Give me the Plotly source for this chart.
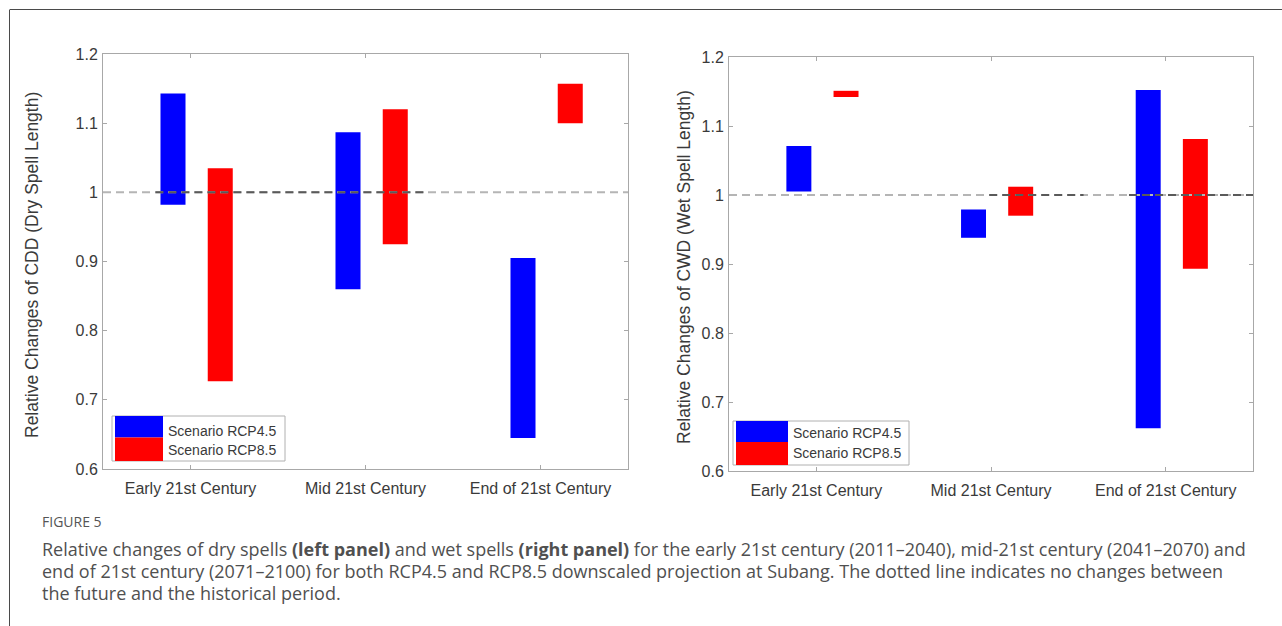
import plotly.graph_objects as go

# ---- data ----
periods = ["Early 21st Century", "Mid 21st Century", "End of 21st Century"]
scenarios = ["Scenario RCP4.5", "Scenario RCP8.5"]

# dry spells (CDD) relative change ranges
cdd_rcp45_low = [0.982, 0.860, 0.645]
cdd_rcp45_high = [1.143, 1.087, 0.905]
cdd_rcp85_low = [0.727, 0.925, 1.100]
cdd_rcp85_high = [1.035, 1.120, 1.157]

# wet spells (CWD) relative change ranges
cwd_rcp45_low = [1.005, 0.938, 0.662]
cwd_rcp45_high = [1.071, 0.979, 1.152]
cwd_rcp85_low = [1.142, 0.970, 0.893]
cwd_rcp85_high = [1.151, 1.012, 1.081]

y_tick_vals = [0.6, 0.7, 0.8, 0.9, 1.0, 1.1, 1.2]
y_tick_text = ["0.6", "0.7", "0.8", "0.9", "1", "1.1", "1.2"]
no_change = 1.0

# ---- styling ----
W, H = 1282, 626
BLUE = "#0000ff"
RED = "#ff0000"
AXIS_GRAY = "#a8a8a8"
TEXT = "#3a3a3a"
FONT = "Liberation Sans, Arial, sans-serif"
CAP_FONT = "Open Sans, Lato, sans-serif"


def px(x):
    return x / W


def py(y):
    return 1 - y / H


fig = go.Figure()

bar_w = 0.143
off45, off85 = -0.10, 0.17
cats = [1, 2, 3]

panels = [
    ("x", "y", cdd_rcp45_low, cdd_rcp45_high, cdd_rcp85_low, cdd_rcp85_high),
    ("x2", "y2", cwd_rcp45_low, cwd_rcp45_high, cwd_rcp85_low, cwd_rcp85_high),
]

for xa, ya, lo45, hi45, lo85, hi85 in panels:
    fig.add_trace(go.Bar(
        x=[c + off45 for c in cats], y=[h - l for l, h in zip(lo45, hi45)], base=lo45,
        width=bar_w, marker=dict(color=BLUE, line=dict(width=0)),
        xaxis=xa, yaxis=ya, showlegend=False, name=scenarios[0]))
    fig.add_trace(go.Bar(
        x=[c + off85 for c in cats], y=[h - l for l, h in zip(lo85, hi85)], base=lo85,
        width=bar_w, marker=dict(color=RED, line=dict(width=0)),
        xaxis=xa, yaxis=ya, showlegend=False, name=scenarios[1]))

shapes = []
# reference line at "no change": light dashes across, darker overlapping dashes
for xr, yr, dark_spans in [("x", "y", [(0.80, 2.34)]),
                           ("x2", "y2", [(1.99, 2.53), (2.79, 3.5)])]:
    shapes.append(dict(type="line", xref=xr, yref=yr, x0=0.5, x1=3.5,
                       y0=no_change, y1=no_change, layer="above",
                       line=dict(color="#b5b5b5", width=2, dash="8px,5px")))
    for a, b in dark_spans:
        shapes.append(dict(type="line", xref=xr, yref=yr, x0=a, x1=b,
                           y0=no_change, y1=no_change, layer="above",
                           line=dict(color="#5a5a5a", width=2, dash="8px,5px")))

# outer frame of the figure
shapes.append(dict(type="line", xref="paper", yref="paper", x0=px(10), x1=1.0,
                   y0=py(9.5), y1=py(9.5), line=dict(color="#4a4a4a", width=1)))
shapes.append(dict(type="line", xref="paper", yref="paper", x0=px(9.5), x1=px(9.5),
                   y0=py(9.5), y1=0, line=dict(color="#4a4a4a", width=1)))

annotations = []

# legends (colour patches stacked, with a thin box)
for (bx0, by0, bx1, by1, pxr, ty1, ty2) in [
        (112, 416, 285, 461, 163, 431, 450),
        (733, 421, 909, 465, 788, 433, 453)]:
    mid = (by0 + by1) / 2 - 1
    shapes.append(dict(type="rect", xref="paper", yref="paper",
                       x0=px(bx0), x1=px(bx1), y0=py(by1), y1=py(by0),
                       line=dict(color="#b0b0b0", width=1), fillcolor="white"))
    shapes.append(dict(type="rect", xref="paper", yref="paper",
                       x0=px(bx0 + 3), x1=px(pxr), y0=py(mid), y1=py(by0),
                       line=dict(width=0), fillcolor=BLUE))
    shapes.append(dict(type="rect", xref="paper", yref="paper",
                       x0=px(bx0 + 3), x1=px(pxr), y0=py(by1), y1=py(mid),
                       line=dict(width=0), fillcolor=RED))
    for txt, ty in zip(scenarios, [ty1, ty2]):
        annotations.append(dict(xref="paper", yref="paper", x=px(pxr + 3), y=py(ty),
                                xanchor="left", yanchor="middle", showarrow=False,
                                text=txt, font=dict(family=FONT, size=14, color=TEXT)))

# y-axis titles
annotations.append(dict(xref="paper", yref="paper", x=px(32), y=py(265), textangle=-90,
                        showarrow=False, xanchor="center", yanchor="middle",
                        text="Relative Changes of CDD (Dry Spell Length)",
                        font=dict(family=FONT, size=17.5, color=TEXT)))
annotations.append(dict(xref="paper", yref="paper", x=px(684), y=py(267), textangle=-90,
                        showarrow=False, xanchor="center", yanchor="middle",
                        text="Relative Changes of CWD (Wet Spell Length)",
                        font=dict(family=FONT, size=17.5, color=TEXT)))

# caption
annotations.append(dict(xref="paper", yref="paper", x=px(40), y=py(521),
                        xanchor="left", yanchor="middle", showarrow=False,
                        text="FIGURE 5", font=dict(family=CAP_FONT, size=14, color="#555555")))
caption_lines = [
    "Relative changes of dry spells <b>(left panel)</b> and wet spells <b>(right panel)</b> for the early 21st century (2011\u20132040), mid-21st century (2041\u20132070) and",
    "end of 21st century (2071\u20132100) for both RCP4.5 and RCP8.5 downscaled projection at Subang. The dotted line indicates no changes between",
    "the future and the historical period.",
]
for i, line in enumerate(caption_lines):
    annotations.append(dict(xref="paper", yref="paper", x=px(40), y=py(549 + 22 * i),
                            xanchor="left", yanchor="middle", showarrow=False,
                            text=line, font=dict(family=CAP_FONT, size=18, color="#505050")))

xcommon = dict(range=[0.5, 3.5], tickvals=cats, ticktext=periods, ticks="inside",
               ticklen=4, tickcolor=AXIS_GRAY, showline=True, linecolor=AXIS_GRAY,
               linewidth=1, mirror="ticks", showgrid=False, zeroline=False,
               tickfont=dict(family=FONT, size=16, color=TEXT), ticklabelstandoff=5,
               automargin=False, fixedrange=True)
ycommon = dict(range=[0.6, 1.2], tickvals=y_tick_vals, ticktext=y_tick_text, ticks="inside",
               ticklen=4, tickcolor=AXIS_GRAY, showline=True, linecolor=AXIS_GRAY,
               linewidth=1, mirror="ticks", showgrid=False, zeroline=False,
               tickfont=dict(family=FONT, size=16, color=TEXT), ticklabelstandoff=1,
               automargin=False, fixedrange=True)

fig.update_layout(
    width=W, height=H,
    margin=dict(l=0, r=0, t=0, b=0, pad=0),
    paper_bgcolor="white", plot_bgcolor="white",
    barmode="overlay",
    xaxis=dict(domain=[px(103), px(628)], anchor="y", **xcommon),
    yaxis=dict(domain=[py(469), py(54)], anchor="x", **ycommon),
    xaxis2=dict(domain=[px(729), px(1253)], anchor="y2", **xcommon),
    yaxis2=dict(domain=[py(471), py(57)], anchor="x2", **ycommon),
    shapes=shapes,
    annotations=annotations,
    showlegend=False,
)

fig.write_html("out.html", config=dict(displayModeBar=False))
